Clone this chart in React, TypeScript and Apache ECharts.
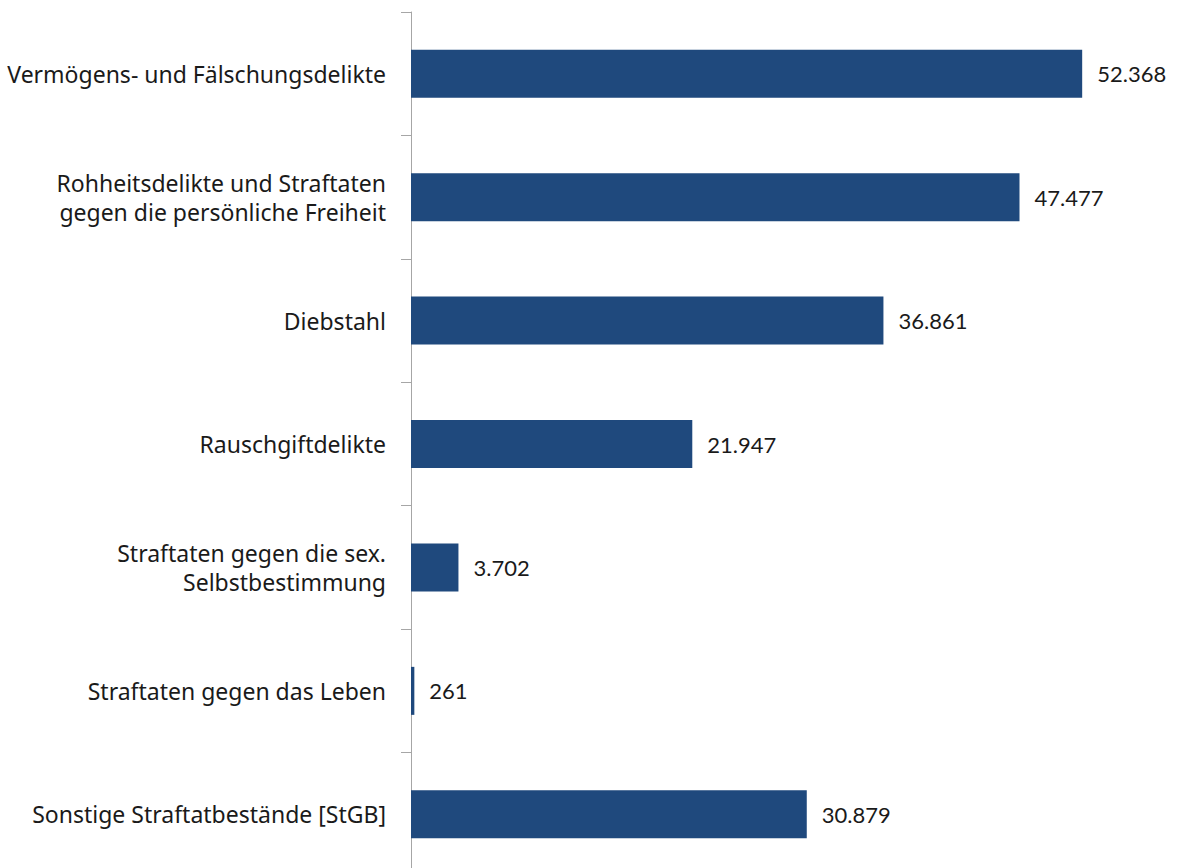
import React, { useEffect, useRef } from "react";
import * as echarts from "echarts";

const categories = [
  "Vermögens- und Fälschungsdelikte",
  "Rohheitsdelikte und Straftaten\ngegen die persönliche Freiheit",
  "Diebstahl",
  "Rauschgiftdelikte",
  "Straftaten gegen die sex.\nSelbstbestimmung",
  "Straftaten gegen das Leben",
  "Sonstige Straftatbestände [StGB]",
];
const values = [52368, 47477, 36861, 21947, 3702, 261, 30879];

const fmt = (v: number) => v.toLocaleString("de-DE");

export default function App() {
  const ref = useRef<HTMLDivElement>(null);
  useEffect(() => {
    document.body.style.margin = "0";
    const chart = echarts.init(ref.current!, null, { renderer: "svg" });
    chart.setOption({
      animation: false,
      grid: { left: 411, top: 12, width: 770, height: 864, containLabel: false },
      xAxis: {
        type: "value",
        min: 0,
        max: 60000,
        show: false,
      },
      yAxis: {
        type: "category",
        inverse: true,
        data: categories,
        axisLine: { show: true, lineStyle: { color: "#a6a6a6", width: 1 } },
        axisTick: { show: true, length: 10, lineStyle: { color: "#a6a6a6" } },
        axisLabel: {
          margin: 25,
          fontFamily: "Noto Sans",
          fontSize: 23,
          color: "#1a1a1a",
          lineHeight: 29,
          align: "right",
        },
      },
      series: [
        {
          type: "bar",
          data: values,
          barWidth: 48,
          itemStyle: { color: "#1f497d" },
          label: {
            show: true,
            position: "right",
            distance: 15,
            fontFamily: "Lato",
            fontSize: 22,
            color: "#1a1a1a",
            formatter: (p: any) => fmt(p.value),
          },
        },
      ],
    });
    return () => chart.dispose();
  }, []);
  return (
    <div style={{ width: 1180, height: 868, overflow: "hidden" }}>
      <div ref={ref} style={{ width: 1180, height: 890 }} />
    </div>
  );
}
